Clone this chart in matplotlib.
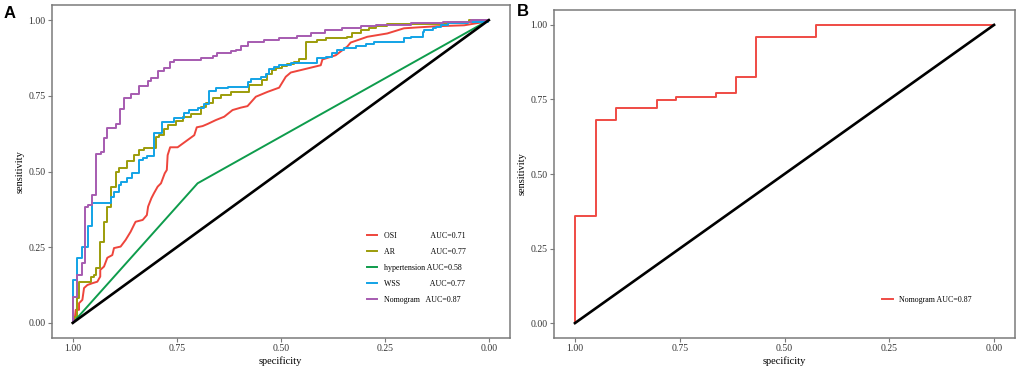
import matplotlib
matplotlib.use("Agg")
import matplotlib.pyplot as plt

plt.rcParams['font.family'] = ['Liberation Serif', 'DejaVu Serif']

# ---------------- data ----------------
tick_vals = [1.00, 0.75, 0.50, 0.25, 0.00]
tick_labels = ["1.00", "0.75", "0.50", "0.25", "0.00"]

names = ["OSI", "AR", "hypertension", "WSS", "Nomogram"]
aucs = ["0.71", "0.77", "0.58", "0.77", "0.87"]
colors = ["#EE453C", "#9C9C0A", "#0E9C4C", "#12A3E6", "#A65BB0"]

# OSI (polyline, contains ties)
osi_spec = [1.000, 0.995, 0.993, 0.985, 0.985, 0.977, 0.973, 0.965, 0.953, 0.941,
            0.934, 0.934, 0.925, 0.917, 0.905, 0.901, 0.885, 0.873, 0.861, 0.851,
            0.849, 0.832, 0.822, 0.819, 0.811, 0.805, 0.796, 0.788, 0.779, 0.774,
            0.772, 0.766, 0.748, 0.724, 0.708, 0.702, 0.688, 0.676, 0.656, 0.636,
            0.616, 0.596, 0.580, 0.560, 0.532, 0.504, 0.488, 0.476, 0.404, 0.400,
            0.368, 0.340, 0.332, 0.292, 0.244, 0.204, 0.171, 0.123, 0.059, 0.011,
            0.000]
osi_sens = [0.000, 0.017, 0.043, 0.043, 0.065, 0.076, 0.115, 0.125, 0.131, 0.136,
            0.153, 0.175, 0.186, 0.215, 0.224, 0.247, 0.252, 0.274, 0.301, 0.329,
            0.334, 0.340, 0.356, 0.384, 0.412, 0.428, 0.450, 0.461, 0.494, 0.505,
            0.554, 0.580, 0.580, 0.604, 0.620, 0.646, 0.650, 0.657, 0.670, 0.681,
            0.703, 0.711, 0.716, 0.747, 0.763, 0.777, 0.813, 0.827, 0.851, 0.870,
            0.884, 0.913, 0.926, 0.945, 0.956, 0.973, 0.976, 0.980, 0.983, 0.994,
            1.000]

# AR (steps)
ar_spec = [1.000, 1.000, 0.990, 0.985, 0.957, 0.949, 0.945, 0.934, 0.925, 0.917,
           0.907, 0.897, 0.889, 0.870, 0.853, 0.841, 0.830, 0.800, 0.793, 0.781,
           0.772, 0.752, 0.736, 0.716, 0.692, 0.680, 0.664, 0.644, 0.620, 0.577,
           0.544, 0.534, 0.522, 0.512, 0.496, 0.484, 0.468, 0.456, 0.440, 0.412,
           0.392, 0.340, 0.328, 0.308, 0.288, 0.272, 0.244, 0.216, 0.099, 0.047,
           0.000]
ar_sens = [0.000, 0.020, 0.083, 0.136, 0.153, 0.158, 0.182, 0.268, 0.333, 0.384,
           0.450, 0.497, 0.511, 0.536, 0.553, 0.571, 0.579, 0.615, 0.620, 0.642,
           0.652, 0.668, 0.679, 0.690, 0.714, 0.725, 0.742, 0.752, 0.764, 0.787,
           0.802, 0.823, 0.835, 0.841, 0.850, 0.856, 0.863, 0.873, 0.928, 0.936,
           0.940, 0.945, 0.956, 0.967, 0.973, 0.980, 0.986, 0.988, 0.994, 1.000,
           1.000]

# hypertension (single threshold)
hyp_spec = [1.000, 0.700, 0.000]
hyp_sens = [0.000, 0.461, 1.000]

# WSS (steps)
wss_spec = [1.000, 1.000, 0.990, 0.979, 0.963, 0.953, 0.909, 0.900, 0.889, 0.885,
            0.869, 0.857, 0.841, 0.832, 0.822, 0.806, 0.786, 0.756, 0.732, 0.720,
            0.700, 0.684, 0.672, 0.656, 0.628, 0.580, 0.572, 0.548, 0.536, 0.528,
            0.516, 0.504, 0.476, 0.412, 0.392, 0.376, 0.364, 0.348, 0.320, 0.296,
            0.276, 0.204, 0.188, 0.159, 0.156, 0.135, 0.127, 0.115, 0.099, 0.051,
            0.003, 0.000]
wss_sens = [0.000, 0.142, 0.214, 0.252, 0.320, 0.396, 0.416, 0.432, 0.454, 0.465,
            0.478, 0.495, 0.538, 0.544, 0.550, 0.627, 0.662, 0.676, 0.694, 0.703,
            0.709, 0.722, 0.766, 0.775, 0.780, 0.796, 0.805, 0.813, 0.823, 0.837,
            0.845, 0.851, 0.857, 0.874, 0.879, 0.890, 0.901, 0.907, 0.914, 0.922,
            0.928, 0.940, 0.945, 0.961, 0.969, 0.973, 0.978, 0.983, 0.989, 0.994,
            1.000, 1.000]

# Nomogram (steps)
nom_spec = [1.000, 1.000, 0.991, 0.979, 0.971, 0.964, 0.953, 0.945, 0.933, 0.925,
            0.917, 0.897, 0.887, 0.878, 0.861, 0.841, 0.820, 0.813, 0.794, 0.781,
            0.766, 0.757, 0.692, 0.664, 0.654, 0.619, 0.608, 0.596, 0.579, 0.541,
            0.505, 0.460, 0.428, 0.394, 0.352, 0.308, 0.272, 0.188, 0.111, 0.043,
            0.000]
nom_sens = [0.000, 0.086, 0.158, 0.198, 0.384, 0.389, 0.422, 0.558, 0.565, 0.611,
            0.644, 0.657, 0.708, 0.743, 0.756, 0.782, 0.800, 0.810, 0.832, 0.842,
            0.863, 0.868, 0.876, 0.882, 0.892, 0.898, 0.903, 0.914, 0.928, 0.934,
            0.940, 0.947, 0.956, 0.969, 0.975, 0.980, 0.983, 0.989, 0.994, 1.000,
            1.000]

# Panel B: Nomogram (validation)
b_spec = [1.000, 1.000, 0.950, 0.902, 0.805, 0.759, 0.663, 0.616, 0.568, 0.425, 0.000]
b_sens = [0.000, 0.360, 0.680, 0.720, 0.748, 0.759, 0.773, 0.826, 0.959, 1.000, 1.000]
b_name = "Nomogram"
b_auc = "0.87"
b_color = "#EF4B44"

diag_x = [1.0, 0.0]
diag_y = [0.0, 1.0]

# legend label padding (spaces) to mimic the original alignment
pads = [17, 18, 1, 15, 3]

# ---------------- figure ----------------
W, H = 1021, 376
fig = plt.figure(figsize=(W / 100, H / 100), dpi=100)

axA = fig.add_axes([52 / W, (H - 338) / H, 457.6 / W, 333 / H])
axB = fig.add_axes([554 / W, (H - 338) / H, 461 / W, 328 / H])

def style(ax):
    ax.set_xlim(1.05, -0.05)
    ax.set_ylim(-0.05, 1.05)
    ax.set_xticks(tick_vals)
    ax.set_xticklabels(tick_labels)
    ax.set_yticks(tick_vals[::-1])
    ax.set_yticklabels(tick_labels[::-1])
    for s in ax.spines.values():
        s.set_color("#7a7a7a")
        s.set_linewidth(1.1)
    ax.tick_params(direction="out", length=3, width=0.8, colors="#7a7a7a",
                   labelcolor="#333333", labelsize=7, pad=1.5)
    ax.set_xlabel("specificity", fontsize=7.5, labelpad=2)
    ax.set_ylabel("sensitivity", fontsize=7.5, labelpad=3)

style(axA)
style(axB)

labels = [f"{n}{' ' * p}AUC={a}" for n, p, a in zip(names, pads, aucs)]

axA.plot(osi_spec, osi_sens, color=colors[0], lw=1.4, label=labels[0])
axA.step(ar_spec, ar_sens, where="post", color=colors[1], lw=1.4, label=labels[1])
axA.plot(hyp_spec, hyp_sens, color=colors[2], lw=1.4, label=labels[2])
axA.step(wss_spec, wss_sens, where="post", color=colors[3], lw=1.4, label=labels[3])
axA.step(nom_spec, nom_sens, where="post", color=colors[4], lw=1.4, label=labels[4])
axA.plot(diag_x, diag_y, color="black", lw=1.9, zorder=5)

axA.legend(loc="upper left", bbox_to_anchor=((367 - 52) / 457.6, 1 - (231.5 - 5) / 333),
           frameon=False, fontsize=5.7, handlelength=1.25, handletextpad=0.85,
           labelspacing=1.02, borderpad=0, borderaxespad=0)

axB.step(b_spec, b_sens, where="post", color=b_color, lw=1.4, label=f"{b_name} AUC={b_auc}")
axB.plot(diag_x, diag_y, color="black", lw=1.9, zorder=5)
axB.legend(loc="upper left", bbox_to_anchor=((881.7 - 554) / 461, 1 - (296 - 10) / 328),
           frameon=False, fontsize=5.7, handlelength=1.4, handletextpad=0.8,
           borderpad=0, borderaxespad=0)

fig.text(4 / W, 1 - 18 / H, "A", fontsize=12, fontweight="bold",
         family=["Liberation Sans", "DejaVu Sans"], ha="left", va="baseline")
fig.text(517 / W, 1 - 16 / H, "B", fontsize=12, fontweight="bold",
         family=["Liberation Sans", "DejaVu Sans"], ha="left", va="baseline")

fig.savefig("out.png", dpi=100)
